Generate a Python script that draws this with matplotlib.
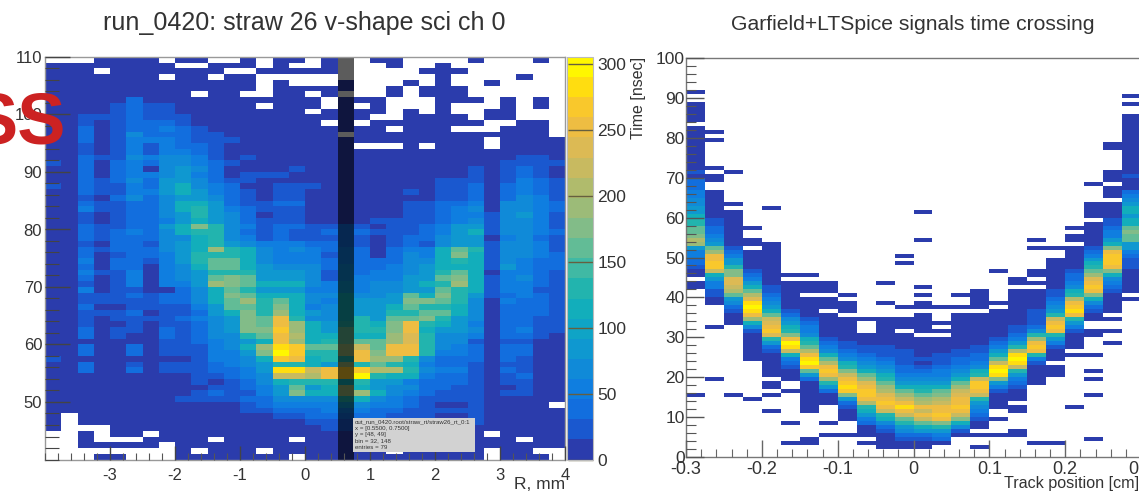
import numpy as np
import matplotlib
matplotlib.use("Agg")
import matplotlib.pyplot as plt
from matplotlib.colors import ListedColormap, BoundaryNorm
from matplotlib.patches import Rectangle
from matplotlib.ticker import MultipleLocator, FixedLocator

W, H = 1139, 494
plt.rcParams['font.family'] = ['Liberation Sans', 'DejaVu Sans']
plt.rcParams['axes.unicode_minus'] = False
TXT = '#333333'

LEVELS = "0123456789abcdefghij"
# colour band (of 20) that each level character falls in
LEVEL_BAND = [0, 1, 2, 3, 4, 5, 7, 8, 10, 11, 12, 13, 14, 15, 16, 16, 17, 18, 18, 19]
BAND_COLORS = ['#2b3cac', '#1a58cf', '#126ede', '#0f7ee0', '#108ad8', '#0f98d0', '#0fa4c6', '#12aebb',
               '#22b4ae', '#40b9a4', '#62bc96', '#82bc88', '#9cbb78', '#b0bb6c', '#c8ba60', '#dcba54',
               '#eebd42', '#f9c82c', '#ffdd10', '#fff700']

title_left = "run_0420: straw 26 v-shape sci ch 0"
title_right = "Garfield+LTSpice signals time crossing"
stats_lines = ["out_run_0420.root/straw_rt/straw26_rt_0:1", "x = [0.5500, 0.7500]",
               "y = [48, 49]", "bin = 32, 148", "entries = 79"]
left_xticks = [-3, -2, -1, 0, 1, 2, 3, 4]
left_yticks = [50, 60, 70, 80, 90, 100, 110]
cbar_ticks = [0, 50, 100, 150, 200, 250, 300]
right_xticks = [-0.3, -0.2, -0.1, 0, 0.1, 0.2, 0.3]
right_xlabels = ["-0.3", "-0.2", "-0.1", "0", "0.1", "0.2", "0.3"]
right_yticks = [0, 10, 20, 30, 40, 50, 60, 70, 80, 90, 100]

# left histogram: one string per 1 ns row from 110 down to 40, one char per 0.25 mm column
left_rows = [
 "...0000. 00..0.00 .0..00.. ..0...0.",
 "00000000 ..000.0. .0...0.. 0.......",
 "000.0000 000..000 00.....0 00......",
 "0000000. 00.00... ........ 0....0..",
 "00000000 00000.0. ..0...0. 0..0....",
 "00000000 00000.00 000..0.0 00......",
 "00000000 0.00..00 .0...0.0 00......",
 "00000200 00000000 0.000... 000.0.0.",
 "00001211 00000.00 0.0.0... 0...0.0.",
 "00001211 00000000 .0000.0. 0..00...",
 "00111211 10000000 0000..00 00.00...",
 "00101222 10000000 0.0.0000 000..00.",
 "00201223 21000000 00000.00 0...000.",
 "00201422 21100000 00.00000 0000000.",
 "00201333 21110000 00000000 000.0000",
 "00101313 22100000 000...0. 000.0000",
 "00101313 32100000 00000000 00000000",
 "00211434 43101000 00000000 00000110",
 "10202324 43210000 00000000 00001111",
 "00202304 54200001 00000000 00101210",
 "00202334 53201110 00000000 00101210",
 "00212425 54211000 00000000 11101321",
 "10211325 64320011 10000000 11202321",
 "00211335 65321011 00000010 11202321",
 "00102424 55421011 00000000 11202431",
 "00211224 66521122 00000011 22304432",
 "00311224 67532111 00000011 23404432",
 "00101224 57542011 00000011 23314531",
 "00101223 56542111 00001111 23414431",
 "00211225 69743122 11210112 35514431",
 "00212324 67742121 12221112 35614432",
 "00212224 46743121 11210122 45503421",
 "00102214 56754333 22210121 45514431",
 "00212224 56a76434 32320233 68714431",
 "00201223 57776433 31320243 69614432",
 "00302213 57886433 32322244 67614322",
 "00202203 46886544 42422345 66615322",
 "00311303 45777555 41423345 78603321",
 "00201303 45898555 41433355 89613421",
 "00101303 35a98666 43534456 7a613321",
 "00301100 24687555 33534455 87613311",
 "00111212 24698666 44644586 97512321",
 "00111112 2468a786 43655599 87403221",
 "00200111 13588796 34655687 76402221",
 "00111201 125697a6 54655778 86402221",
 "00101111 234598e7 44675889 75402211",
 "00100101 124598ea 657769e7 65302211",
 "00201102 124599ga 658779e6 55402311",
 "00201002 124478eb 66866ad7 44302210",
 "00000001 123456fa 67888ad7 44101100",
 "00200201 11346aig 88ac8ee7 43202200",
 "00200201 113359jg 77af9ee7 33202200",
 "10000000 013346ge 677eaa74 22202100",
 "00200101 11234577 65a78763 22101100",
 "00200201 112235hh cfggbb74 33102100",
 "00000000 011234cc begj7663 22101200",
 "00000000 01012467 77675532 22101100",
 "00000000 00112358 56a65442 21100100",
 "00000000 01211359 66aa6432 11101100",
 "00000000 11112244 44764321 11100000",
 "00000000 00001233 33543321 0010000.",
 "00000000 00001122 23332211 11100000",
 "0.000000 00000011 22222111 00100000",
 "0.000000 00000000 11111111 11100000",
 "0...0000 00000000 01110000 00000000",
 "..0.00.0 00000000 00000000 000.0000",
 "..0...00 00.0000. 00000000 00000.00",
 "..00000. 00000000 00000000 00000000",
 "........ 0.000.00 00000.00 000.00..",
 "...00... 0000000. 00000000 000.000.",
]

# right histogram: per 0.025 cm column, (first 1-unit y bin, levels going up; '.' = empty)
col_00 = [(15, "0"), (42, "00.0012233 5ab9887765 5443322201 00000000000 . 00000 .. 0")]
col_01 = [(19, "0"), (32, "0"), (38, "0011335 6cggfea8 5432211 0000000"), (69, "00"), (72, "0"), (79, "0"), (81, "0")]
col_02 = [(15, "0"), (33, "000124 58bcdd 997 5532 1 000000000"), (63, "0"), (71, "0")]
col_03 = [(14, "0"), (24, "0000000 146ae hjhdb8 6532 1 00000"), (53, "00"), (57, "0")]
col_04 = [(11, "0"), (15, "0"), (17, "00"), (20, "000000 1257 dgfdc 86 54 3 2 11 00000000000"), (62, "0")]
col_05 = [(3, "0"), (8, "0"), (16, "0"), (19, "000 1236 chje97 6542 1 0000000"), (45, "0")]
col_06 = [(3, "00"), (11, "00000000 258 gjifb87 6433 21 00000 . 000"), (45, "0")]
col_07 = [(5, "0"), (8, "0"), (13, "000 257ae gfb864 321 000000 . 000 . 000")]
col_08 = [(5, "0"), (9, "000 1259 ghgec9 7643 211 000000 . 000 . 0")]
col_09 = [(3, "0"), (5, "000 2 3567 bfggfd a86543 211 000 ... 0")]
col_10 = [(2, "0000 1 2467 cfgfdba 8765432 111 0000000"), (38, "0"), (43, "0")]
col_11 = [(2, "00 1 2 4 5 7 8 c f h e c a 8 6 5 4 3 2 2 1 1 1 1 0000 . 000"), (37, "0"), (48, "0"), (50, "0")]
col_12 = [(2, "00 1 2 5 6 8 c f c f b a 8 7 6 5 4 3 2 1 0 1 00000 . 00000 . 00 . 0 . 0"), (54, "0"), (61, "0")]
col_13 = [(3, "0 2 3 5 7 9 e g f f c b 9 8 6 5 4 3 3 2 1 1 1 0000 . 0 . 0"), (37, "0")]
col_14 = [(5, "0 1 4 6 9 c f g f e d c a 8 6 5 4 3 2 2 1 1 000000000"), (37, "0"), (40, "0")]
col_15 = [(2, "0"), (5, "0"), (7, "00 1 2 3 4 5 7 c f g g c 7 6 4 3 2 2 1 1 00000000 . 00000")]
col_16 = [(5, "0"), (9, "0"), (12, "0000 1 3 5 9 h j h c 8 6 5 3 2 1 0000000"), (38, "0"), (46, "0")]
col_17 = [(5, "00"), (11, "00"), (14, "000 1 2 3 5 7 c i j h b 7 5 3 2 1 1 000000000"), (43, "00")]
col_18 = [(3, "0"), (18, "00000 1 3 7 f g f a 7 4 2 1 1 1 1 0 0000"), (43, "0"), (45, "00"), (52, "0"), (54, "0")]
col_19 = [(3, "0"), (20, "000 . 000 1 3 5 7 e g f c 7 5 4 3 2 1 1 00000000"), (52, "0")]
col_20 = [(12, "0"), (25, "0"), (27, "0000 1 3 5 7 e h g e b 7 6 4 3 2 2 1 000000"), (54, "00"), (57, "0")]
col_21 = [(4, "0"), (15, "0"), (19, "0"), (21, "0"), (25, "0"), (30, "00"),
          (34, "00 1 2 4 6 9 e g f d a 8 7 6 5 3 2 1 000000 . 0000"), (68, "0")]
col_22 = [(28, "0"), (31, "0"), (34, "0"), (36, "00000 1 2 3 4 6 9 f g g g f 9 6 5 3 3 2 1 1 0000 . 000 . 000"), (77, "00")]
col_23 = [(39, "0"), (41, "0 00000 1 1 1 2 3 5 5 8 8 9 8 6 6 5 6 6 5 4 3 2 000 1 000000000000000"), (88, "0"), (90, "0")]
right_cols = [col_00, col_01, col_02, col_03, col_04, col_05, col_06, col_07, col_08, col_09, col_10, col_11,
              col_12, col_13, col_14, col_15, col_16, col_17, col_18, col_19, col_20, col_21, col_22, col_23]

VMAX = 305.0
STEP = VMAX / len(BAND_COLORS)


def to_value(ch):
    return np.nan if ch == '.' else (LEVEL_BAND[LEVELS.index(ch)] + 0.5) * STEP


left_grid = np.array([[to_value(c) for c in row.replace(' ', '')] for row in left_rows])[::-1]
right_grid = np.full((100, len(right_cols)), np.nan)
for i, col in enumerate(right_cols):
    for start, s in col:
        for k, c in enumerate(s.replace(' ', '')):
            right_grid[start + k, i] = to_value(c)


def axes_px(x0, x1, ytop, ybot):
    return fig.add_axes([x0 / W, 1 - ybot / H, (x1 - x0) / W, (ybot - ytop) / H])


fig = plt.figure(figsize=(W / 100, H / 100), dpi=100, facecolor='white')
cmap = ListedColormap(BAND_COLORS)
norm = BoundaryNorm(np.linspace(0, VMAX, len(BAND_COLORS) + 1), cmap.N)

# left panel
ax = axes_px(45, 565, 57, 459.5)
mesh = ax.pcolormesh(np.linspace(-4, 4, 33), np.arange(40, 111), np.ma.masked_invalid(left_grid),
                     cmap=cmap, norm=norm, antialiased=False, linewidth=0, zorder=1)
ax.axvspan(0.5, 0.75, color='black', alpha=0.64, lw=0, zorder=2)
ax.set_xlim(-4, 4)
ax.set_ylim(40, 110)
ax.xaxis.set_major_locator(FixedLocator(left_xticks))
ax.xaxis.set_minor_locator(MultipleLocator(0.2))
ax.yaxis.set_major_locator(FixedLocator(left_yticks))
ax.yaxis.set_minor_locator(MultipleLocator(2))
ax.tick_params(axis='x', which='major', direction='in', length=10, width=1, color='#444444',
               labelsize=12, labelcolor=TXT, pad=6)
ax.tick_params(axis='x', which='minor', direction='in', length=5, width=0.8, color='#555555')
ax.tick_params(axis='y', which='major', direction='in', length=18, width=1, color='#444444',
               labelsize=12, labelcolor=TXT, pad=2)
ax.tick_params(axis='y', which='minor', direction='in', length=10, width=0.8, color='#444444')
for s in ax.spines.values():
    s.set_color('#999999')
    s.set_linewidth(1)
ax.set_axisbelow(False)
fig.text(565 / W, 1 - 484 / H, "R, mm", ha='right', va='center', fontsize=12.5, color=TXT)
fig.text(304.5 / W, 1 - 23 / H, title_left, ha='center', va='center', fontsize=18, color=TXT)

# stats box
fig.add_artist(Rectangle((353 / W, 1 - 452 / H), 122 / W, 34 / H, transform=fig.transFigure,
                         facecolor='#d2d2d2', edgecolor='none', zorder=5))
for n, line in enumerate(stats_lines):
    fig.text(355 / W, 1 - (421.7 + n * 6.4) / H, line, ha='left', va='center', fontsize=4.45,
             color='#333333', zorder=6)

# colour bar
cax = axes_px(567, 593, 57, 459.5)
cb = fig.colorbar(mesh, cax=cax, spacing='proportional', ticks=cbar_ticks)
cb.ax.minorticks_off()
cb.ax.tick_params(axis='y', which='major', direction='in', length=18, width=1, color='#665f3f',
                  labelsize=12.5, labelcolor=TXT, pad=3, right=True)
cb.outline.set_edgecolor('#bbbbbb')
cb.outline.set_linewidth(0.8)
fig.text(638 / W, 1 - 57 / H, "Time [nsec]", rotation=90, ha='center', va='top', fontsize=11.5, color=TXT)

# right panel
ar = axes_px(686, 1141, 58, 457)
ar.pcolormesh(np.linspace(-0.3, 0.3, 25), np.arange(0, 101), np.ma.masked_invalid(right_grid),
              cmap=cmap, norm=norm, antialiased=False, linewidth=0, zorder=1)
ar.set_xlim(-0.3, 0.3)
ar.set_ylim(0, 100)
ar.set_xticks(right_xticks)
ar.set_xticklabels(right_xlabels)
ar.set_yticks(right_yticks)
ar.xaxis.set_minor_locator(MultipleLocator(0.02))
ar.yaxis.set_minor_locator(MultipleLocator(2))
ar.tick_params(axis='x', which='major', direction='in', length=12, width=1, color='#666666',
               labelsize=13, labelcolor=TXT, pad=3)
ar.tick_params(axis='x', which='minor', direction='in', length=6, width=0.8, color='#666666')
ar.tick_params(axis='y', which='major', direction='in', length=13, width=1, color='#555555',
               labelsize=12.5, labelcolor=TXT, pad=1)
ar.tick_params(axis='y', which='minor', direction='in', length=7, width=0.8, color='#555555')
for s in ar.spines.values():
    s.set_color('#777777')
    s.set_linewidth(1)
ar.set_axisbelow(False)
fig.text(1139 / W, 1 - 483 / H, "Track position [cm]", ha='right', va='center', fontsize=11.6, color=TXT)
fig.text(913 / W, 1 - 25 / H, title_right, ha='center', va='center', fontsize=15.2, color=TXT)

# red overlay text cropped by the slide edge
fig.text(66 / W, 1 - 144 / H, "SS", ha='right', va='baseline', fontsize=52, fontweight='bold',
         family='Liberation Sans', color='#cc2222', zorder=10)

fig.savefig("out.png", dpi=100)
